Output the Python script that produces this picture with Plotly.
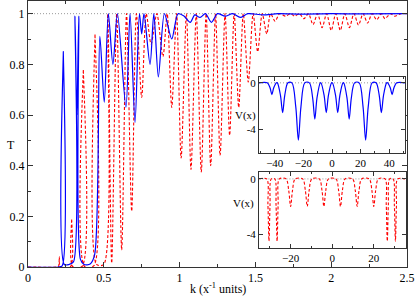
import plotly.graph_objects as go

# ---------------- data ----------------
k_blue = [0.0, 0.20, 0.226, 0.233, 0.239, 0.27, 0.300, 0.310, 0.322, 0.335, 0.346, 0.37, 0.41, 0.440,
          0.474, 0.503, 0.530, 0.560, 0.590, 0.646, 0.673, 0.706, 0.735, 0.750, 0.765, 0.805, 0.830,
          0.860, 0.900, 0.948, 0.990, 1.030, 1.070, 1.100, 1.135, 1.170, 1.210, 1.250, 1.300, 1.350,
          1.400, 1.450, 1.550, 1.650, 1.800, 2.000, 2.200, 2.500]
T_blue = [0.0, 0.0, 0.005, 0.85, 0.01, 0.01, 0.02, 0.99, 0.60, 0.99, 0.03, 0.01, 0.012, 0.05,
          0.91, 0.65, 1.0, 0.80, 1.0, 0.63, 1.0, 0.57, 1.0, 0.92, 1.0, 0.80, 1.0,
          0.75, 1.0, 0.90, 1.0, 0.99, 0.966, 0.995, 0.985, 1.0, 0.966, 1.0, 0.99, 1.0,
          0.985, 1.0, 0.995, 1.0, 0.998, 1.0, 0.999, 1.0]

k_red = [0.0, 0.19, 0.201, 0.207, 0.212, 0.281, 0.288, 0.294, 0.358, 0.365, 0.372, 0.435, 0.442,
         0.452, 0.500, 0.526, 0.552, 0.585, 0.618, 0.650, 0.684, 0.715, 0.750, 0.780, 0.812, 0.850,
         0.890, 0.918, 0.948, 0.980, 1.010, 1.045, 1.075, 1.110, 1.143, 1.175, 1.205, 1.237, 1.267,
         1.300, 1.330, 1.360, 1.390, 1.420, 1.453, 1.485, 1.515, 1.545, 1.575, 1.600, 1.630, 1.660,
         1.700, 1.730, 1.760, 1.790, 1.820, 1.850, 1.880, 1.910, 1.940, 1.970, 2.000, 2.030, 2.060,
         2.090, 2.120, 2.150, 2.180, 2.210, 2.240, 2.270, 2.300, 2.330, 2.355, 2.390, 2.420, 2.460, 2.500]
T_red = [0.0, 0.0, 0.002, 0.04, 0.002, 0.002, 0.19, 0.002, 0.003, 0.78, 0.003, 0.005, 0.92,
         0.01, 0.01, 1.0, 0.015, 1.0, 0.067, 1.0, 0.22, 1.0, 0.67, 1.0, 0.88, 1.0,
         0.83, 1.0, 0.63, 1.0, 0.43, 1.0, 0.385, 1.0, 0.375, 1.0, 0.40, 1.0, 0.44,
         1.0, 0.52, 1.0, 0.63, 1.0, 0.73, 1.0, 0.85, 1.0, 0.92, 1.0, 0.97, 1.0,
         0.99, 1.0, 0.99, 1.0, 0.98, 1.0, 0.957, 1.0, 0.945, 1.0, 0.934, 1.0, 0.934,
         1.0, 0.945, 1.0, 0.955, 1.0, 0.963, 1.0, 0.976, 1.0, 0.98, 1.0, 0.99, 1.0, 1.0]

# inset 1 (blue potential): points along each well
x_v1 = [-51, -45.2, -43.3, -42, -40.7, -38.8,
        -38.2, -36.0, -34.5, -33.0, -30.8,
        -28.0, -25.3, -23.5, -21.7, -19.0,
        -15.8, -13.5, -12.0, -10.5, -8.2,
        -7.7, -5.5, -4.0, -2.5, -0.3,
        0.3, 2.5, 4.0, 5.5, 7.7,
        8.2, 10.5, 12.0, 13.5, 15.8,
        19.0, 21.7, 23.5, 25.3, 28.0,
        30.8, 33.0, 34.5, 36.0, 38.2,
        38.8, 40.7, 42, 43.3, 45.2, 51]
v1 = [0, 0, -0.42, -1.0, -0.42, 0,
      0, -1.07, -2.55, -1.07, 0,
      0, -2.06, -4.9, -2.06, 0,
      0, -1.3, -3.1, -1.3, 0,
      0, -1.07, -2.55, -1.07, 0,
      0, -1.07, -2.55, -1.07, 0,
      0, -1.3, -3.1, -1.3, 0,
      0, -2.06, -4.9, -2.06, 0,
      0, -1.07, -2.55, -1.07, 0,
      0, -0.42, -1.0, -0.42, 0, 0]

# inset 2 (red potential)
x_v2 = [-35, -31.5, -30.9, -30.4, -29.9, -29.3,
        -27.6, -27.0, -26.5, -26.0, -25.4,
        -22.2, -20.9, -20.0, -19.1, -17.8,
        -14.2, -12.9, -12.0, -11.1, -9.8,
        -6.2, -4.9, -4.0, -3.1, -1.8,
        1.8, 3.1, 4.0, 4.9, 6.2,
        9.8, 11.1, 12.0, 12.9, 14.2,
        17.8, 19.1, 20.0, 20.9, 22.2,
        25.4, 26.0, 26.5, 27.0, 27.6,
        29.3, 29.9, 30.4, 30.9, 31.5, 35]
v2 = [0, 0, -1.9, -4.5, -1.9, 0,
      0, -1.9, -4.5, -1.9, 0,
      0, -0.85, -2.0, -0.85, 0,
      0, -0.85, -2.0, -0.85, 0,
      0, -0.85, -2.0, -0.85, 0,
      0, -0.85, -2.0, -0.85, 0,
      0, -0.85, -2.0, -0.85, 0,
      0, -0.85, -2.0, -0.85, 0,
      0, -1.9, -4.5, -1.9, 0,
      0, -1.9, -4.5, -1.9, 0, 0]

main_xticks = [0, 0.5, 1, 1.5, 2, 2.5]
main_xlabels = ["0", "0.5", "1", "1.5", "2", "2.5"]
main_yticks = [0, 0.2, 0.4, 0.6, 0.8, 1]
main_ylabels = ["0", "0.2", "0.4", "0.6", "0.8", "1"]

BLUE = "#0000ff"
RED = "#ff0000"
FONT = "Liberation Serif, Times New Roman, serif"
AX = "#333333"

fig = go.Figure()
# main
fig.add_trace(go.Scatter(x=[0, 2.5], y=[1, 1], mode="lines",
                         line=dict(color="#999999", width=1, dash="1px,2px"), xaxis="x", yaxis="y",
                         hoverinfo="skip"))
fig.add_trace(go.Scatter(x=k_red, y=T_red, mode="lines",
                         line=dict(color=RED, width=1.1, dash="3px,2px", shape="spline", smoothing=0.8),
                         xaxis="x", yaxis="y"))
fig.add_trace(go.Scatter(x=k_blue, y=T_blue, mode="lines",
                         line=dict(color=BLUE, width=1.2, shape="spline", smoothing=0.8),
                         xaxis="x", yaxis="y"))
# inset 1
fig.add_trace(go.Scatter(x=[-51, 51], y=[0, 0], mode="lines",
                         line=dict(color="#999999", width=1, dash="1px,2px"), xaxis="x2", yaxis="y2"))
fig.add_trace(go.Scatter(x=x_v1, y=v1, mode="lines",
                         line=dict(color=BLUE, width=1.2, shape="spline", smoothing=0.9),
                         xaxis="x2", yaxis="y2"))
# inset 2
fig.add_trace(go.Scatter(x=[-35, 35], y=[0, 0], mode="lines",
                         line=dict(color="#999999", width=1, dash="1px,2px"), xaxis="x3", yaxis="y3"))
fig.add_trace(go.Scatter(x=x_v2, y=v2, mode="lines",
                         line=dict(color=RED, width=1.1, dash="3px,2px", shape="spline", smoothing=0.9),
                         xaxis="x3", yaxis="y3"))

def ax(size, **kw):
    d = dict(showline=True, linecolor=AX, linewidth=1, mirror="allticks", ticks="inside",
             showgrid=False, zeroline=False, tickcolor=AX, automargin=False,
             ticklabeloverflow="allow",
             tickfont=dict(family=FONT, size=size, color="black"))
    d.update(kw)
    return d

fig.update_layout(
    template="none",
    width=415, height=297,
    margin=dict(l=28, r=8, t=1, b=30),
    paper_bgcolor="white", plot_bgcolor="white",
    showlegend=False,
    xaxis=ax(12, domain=[0, 1], range=[0, 2.5], tickvals=main_xticks, ticktext=main_xlabels,
             ticklen=5, minor=dict(dtick=0.25, tick0=0, ticks="inside", ticklen=3, tickcolor=AX)),
    yaxis=ax(12, domain=[0, 1], range=[0, 1.05], tickvals=main_yticks, ticktext=main_ylabels,
             ticklen=5, minor=dict(dtick=0.1, tick0=0, ticks="inside", ticklen=3, tickcolor=AX)),
    xaxis2=ax(11, domain=[0.6095, 0.9947], anchor="y2", range=[-51, 51], tickvals=[-40, -20, 0, 20, 40],
              ticklen=4, minor=dict(dtick=10, tick0=0, ticks="inside", ticklen=2, tickcolor=AX)),
    yaxis2=ax(11, domain=[0.4286, 0.7143], anchor="x2", range=[-6, 0.5], tickvals=[-4, 0],
              ticktext=["-4", "0"], ticklen=4),
    xaxis3=ax(11, domain=[0.6095, 0.9974], anchor="y3", range=[-35.2, 35.5], tickvals=[-20, 0, 20],
              ticklen=4, minor=dict(dtick=10, tick0=0, ticks="inside", ticklen=2, tickcolor=AX)),
    yaxis3=ax(11, domain=[0.0714, 0.3571], anchor="x3", range=[-5, 0.5], tickvals=[-4, 0],
              ticktext=["-4", "0"], ticklen=4),
    annotations=[
        dict(text="T", x=-0.062, y=0.46, xref="paper", yref="paper", showarrow=False,
             font=dict(family=FONT, size=12, color="black")),
        dict(text="k (x<sup>-1</sup> units)", x=0.5, y=-0.08, xref="paper", yref="paper",
             showarrow=False, yanchor="middle", font=dict(family=FONT, size=12, color="black")),
        dict(text="V(x)", x=0.573, y=0.57, xref="paper", yref="paper", showarrow=False,
             font=dict(family=FONT, size=11, color="black")),
        dict(text="V(x)", x=0.568, y=0.207, xref="paper", yref="paper", showarrow=False,
             font=dict(family=FONT, size=11, color="black")),
    ],
)

# remove the browser's default 8px page margin so the 415x297 figure fills the window
fig.write_html("out.html", config={"displayModeBar": False},
               post_script="document.body.style.margin='0';document.body.style.overflow='hidden';")
